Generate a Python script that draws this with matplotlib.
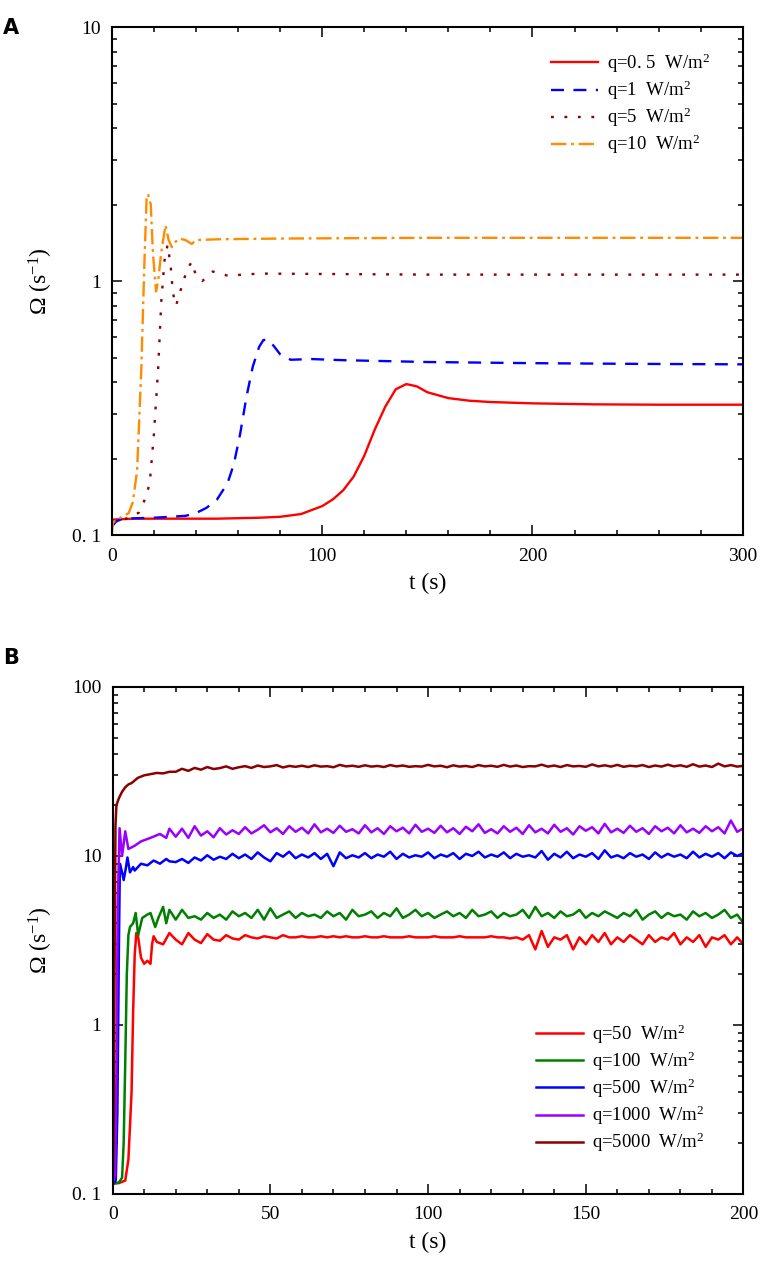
import numpy as np
import matplotlib
matplotlib.use("Agg")
import matplotlib.pyplot as plt
from matplotlib.ticker import FixedLocator, NullFormatter, MultipleLocator, LogLocator

plt.rcParams['font.family'] = ['Liberation Serif', 'DejaVu Serif']
plt.rcParams['mathtext.fontset'] = 'custom'
plt.rcParams['mathtext.rm'] = 'Liberation Serif'
plt.rcParams['mathtext.it'] = 'Liberation Serif'

# ---------------- panel A data ----------------
tA_05 = [0, 10, 30, 50, 70, 80, 90, 100, 105, 110, 115, 120, 125, 130, 135, 140,
         145, 150, 160, 170, 180, 200, 230, 260, 300]
wA_05 = [0.115, 0.116, 0.116, 0.116, 0.117, 0.118, 0.121, 0.13, 0.138, 0.15, 0.17,
         0.205, 0.26, 0.32, 0.375, 0.393, 0.385, 0.365, 0.346, 0.338, 0.334, 0.330,
         0.327, 0.326, 0.326]

tA_1 = [0, 2, 5, 20, 35, 40, 45, 50, 55, 58, 61, 64, 67, 70, 72, 74, 77, 80, 85,
        95, 110, 150, 200, 250, 300]
wA_1 = [0.108, 0.113, 0.116, 0.117, 0.119, 0.122, 0.128, 0.138, 0.16, 0.19, 0.25,
        0.35, 0.46, 0.55, 0.585, 0.59, 0.555, 0.515, 0.49, 0.493, 0.488, 0.48, 0.475,
        0.472, 0.47]

tA_5 = [0, 5, 10, 13, 16, 18, 20, 22, 23.5, 25, 26.5, 28, 29, 30.5, 32, 34, 36, 38,
        40, 43, 48, 55, 70, 150, 300]
wA_5 = [0.112, 0.115, 0.118, 0.123, 0.14, 0.16, 0.25, 0.45, 0.83, 1.2, 1.39, 1.14,
        0.9, 0.8, 0.88, 1.0, 1.12, 1.19, 1.05, 1.0, 1.09, 1.05, 1.07, 1.06, 1.06]

tA_10 = [0, 0.5, 4, 8, 10, 12, 14, 15.5, 16.5, 17.2, 18.5, 19.5, 21, 22, 23.5, 25.5,
         27, 28.5, 30, 32, 35, 38, 40, 50, 80, 150, 300]
wA_10 = [0.1, 0.112, 0.117, 0.122, 0.135, 0.18, 0.45, 1.2, 2.1, 2.2, 2.0, 1.3, 0.91,
         1.0, 1.3, 1.66, 1.45, 1.36, 1.42, 1.47, 1.45, 1.40, 1.45, 1.46, 1.47, 1.48,
         1.48]

labels_A = ['q=0. 5  W/m$^2$', 'q=1  W/m$^2$', 'q=5  W/m$^2$', 'q=10  W/m$^2$']

# ---------------- panel B data ----------------
t_steady = np.arange(20, 201, 2)

tB_50 = [0, 2, 4, 5, 6, 6.5, 7, 7.5, 8, 9, 10, 11, 12, 12.5, 13, 14, 16, 18]
wB_50 = [0.115, 0.116, 0.12, 0.16, 0.4, 1.2, 2.6, 3.5, 3.4, 2.5, 2.3, 2.4, 2.3, 3.0,
         3.35, 3.1, 3.0, 3.5]
sB_50 = [3.2, 3.0, 3.5, 3.2, 3.05, 3.45, 3.2, 3.15, 3.4, 3.25,
         3.2, 3.4, 3.3, 3.25, 3.35, 3.3, 3.25, 3.4, 3.3, 3.3,
         3.35, 3.3, 3.3, 3.35, 3.3, 3.35, 3.3, 3.35, 3.3, 3.3,
         3.35, 3.3, 3.3, 3.35, 3.3, 3.3, 3.3, 3.35, 3.3, 3.3,
         3.3, 3.35, 3.3, 3.3, 3.3, 3.35, 3.3, 3.3, 3.3, 3.3,
         3.35, 3.3, 3.3, 3.25, 3.3, 3.2, 3.4, 2.8, 3.6, 2.9,
         3.3, 3.2, 3.4, 2.8, 3.3, 3.0, 3.4, 3.1, 3.5, 3.0,
         3.3, 3.1, 3.4, 3.2, 3.0, 3.4, 3.1, 3.3, 3.2, 3.5,
         3.0, 3.3, 3.1, 3.4, 2.9, 3.3, 3.2, 3.4, 3.0, 3.3,
         3.0]

tB_100 = [0, 2, 3, 3.5, 4, 4.5, 5, 5.5, 6.5, 7.3, 8.1, 9.4, 11, 12, 13.5, 14.5, 16,
          17, 18]
wB_100 = [0.115, 0.117, 0.125, 0.2, 0.6, 2.0, 3.4, 3.8, 4.0, 4.6, 3.4, 4.3, 4.5, 4.6,
          3.8, 4.3, 5.0, 4.0, 4.8]
sB_100 = [4.2, 4.8, 4.3, 4.4, 4.2, 4.6, 4.3, 4.5, 4.2, 4.7,
          4.4, 4.6, 4.3, 4.8, 4.2, 4.9, 4.3, 4.5, 4.7, 4.3,
          4.6, 4.4, 4.5, 4.3, 4.7, 4.4, 4.6, 4.2, 4.8, 4.4,
          4.5, 4.7, 4.3, 4.6, 4.4, 4.9, 4.3, 4.5, 4.8, 4.4,
          4.6, 4.3, 4.5, 4.7, 4.4, 4.6, 4.3, 4.8, 4.4, 4.5,
          4.7, 4.3, 4.6, 4.4, 4.5, 4.8, 4.3, 5.0, 4.4, 4.6,
          4.3, 4.7, 4.4, 4.5, 4.8, 4.3, 4.6, 4.4, 4.7, 4.5,
          4.3, 4.6, 4.4, 4.8, 4.2, 4.5, 4.7, 4.3, 4.6, 4.4,
          4.5, 4.2, 4.7, 4.4, 4.6, 4.3, 4.5, 4.8, 4.3, 4.5,
          4.0]

tB_500 = [0, 1, 1.5, 2, 2.3, 3, 3.5, 4.2, 4.7, 5.5, 6.5, 7, 9, 11, 13, 15, 17, 18]
wB_500 = [0.115, 0.12, 0.3, 3.0, 9.0, 8.0, 7.2, 8.5, 9.8, 8.0, 8.6, 8.2, 9.0, 8.8,
          9.4, 9.0, 9.6, 9.3]
sB_500 = [9.2, 9.6, 9.1, 9.8, 9.4, 10.1, 9.5, 9.9, 9.6, 10.3,
          9.7, 10.2, 9.6, 10.5, 9.8, 9.3, 10.4, 9.9, 10.6, 9.7,
          10.2, 9.8, 10.4, 9.6, 10.3, 8.7, 10.5, 9.7, 10.1, 9.8,
          10.4, 9.7, 10.2, 9.9, 10.6, 9.6, 10.3, 9.8, 10.1, 9.9,
          10.5, 9.7, 10.2, 9.9, 10.4, 9.6, 10.3, 10.0, 10.6, 9.8,
          10.2, 9.9, 10.5, 9.7, 10.3, 9.9, 10.1, 9.8, 10.7, 9.5,
          10.3, 9.8, 10.6, 9.7, 10.2, 9.9, 10.4, 9.6, 10.8, 9.8,
          10.1, 9.7, 10.4, 9.9, 10.2, 9.6, 10.5, 9.8, 10.3, 9.9,
          10.2, 9.7, 10.6, 9.8, 10.3, 9.9, 10.4, 9.7, 10.5, 10.0,
          10.4]

tB_1000 = [0, 0.8, 1.2, 1.6, 2.2, 3, 4, 5, 7, 9, 12, 15, 17, 18]
wB_1000 = [0.115, 0.13, 0.5, 5.0, 14.6, 10.0, 14.0, 11.0, 11.5, 12.2, 12.8, 13.5,
           12.8, 14.5]
sB_1000 = [13.0, 14.5, 12.8, 15.0, 13.2, 14.0, 12.9, 14.6, 13.4, 14.2,
           13.5, 14.8, 13.6, 14.3, 15.2, 13.8, 14.6, 13.5, 15.0, 13.9,
           14.7, 13.6, 15.4, 13.8, 14.5, 13.7, 15.1, 13.9, 14.4, 13.6,
           15.2, 13.8, 14.6, 13.5, 15.0, 14.0, 14.7, 13.6, 15.3, 13.9,
           14.5, 13.7, 15.1, 13.8, 14.6, 13.5, 14.9, 14.0, 15.4, 13.7,
           14.4, 13.6, 15.0, 13.9, 14.7, 13.5, 15.2, 13.8, 14.5, 13.6,
           15.3, 13.9, 14.6, 13.4, 15.0, 14.1, 14.8, 13.6, 15.5, 13.8,
           14.5, 13.7, 15.1, 13.9, 14.6, 13.5, 15.0, 14.0, 14.7, 13.6,
           15.2, 13.8, 14.5, 13.7, 15.0, 14.0, 14.8, 13.6, 16.2, 13.9,
           14.6]

tB_5000 = [0, 0.3, 0.6, 0.9, 1.2, 2, 3, 4, 5, 6, 8, 10, 12, 14, 16, 18]
wB_5000 = [0.115, 0.2, 2.0, 15, 20, 22, 24, 25.5, 26.5, 27, 29, 30, 30.5, 31, 30.8,
           31.5]
sB_5000 = [31.5, 32.8, 31.9, 33.2, 32.4, 33.6, 32.7, 33.1, 33.9, 32.8,
           33.5, 34.0, 33.2, 34.3, 33.6, 33.9, 34.5, 33.4, 34.1, 33.7,
           34.2, 33.6, 34.4, 33.8, 34.0, 33.5, 34.6, 33.9, 34.2, 33.7,
           34.4, 33.8, 34.1, 33.6, 34.5, 33.9, 34.3, 33.7, 34.0, 33.8,
           34.6, 33.9, 34.2, 33.5, 34.4, 33.8, 34.1, 33.6, 34.5, 33.9,
           34.2, 33.7, 34.6, 33.8, 34.3, 33.6, 34.0, 33.9, 34.7, 33.8,
           34.3, 33.6, 34.5, 33.9, 34.1, 33.7, 34.8, 33.9, 34.4, 33.8,
           34.6, 33.7, 34.2, 33.9, 34.5, 33.6, 34.3, 33.8, 34.7, 33.9,
           34.4, 33.7, 34.9, 33.8, 34.3, 33.6, 35.2, 33.9, 34.5, 33.8,
           34.2]

labels_B = ['q=50  W/m$^2$', 'q=100  W/m$^2$', 'q=500  W/m$^2$',
            'q=1000  W/m$^2$', 'q=5000  W/m$^2$']


def style_axes(ax, xmax, xmajor, xminor, ymin, ymax, yticks, yticklabels):
    ax.set_yscale('log')
    ax.set_xlim(0, xmax)
    ax.set_ylim(ymin, ymax)
    ax.xaxis.set_major_locator(MultipleLocator(xmajor))
    ax.xaxis.set_minor_locator(MultipleLocator(xminor))
    ax.yaxis.set_major_locator(FixedLocator(yticks))
    ax.yaxis.set_minor_locator(LogLocator(base=10, subs=np.arange(2, 10)))
    ax.yaxis.set_minor_formatter(NullFormatter())
    ax.set_yticklabels(yticklabels)
    ax.tick_params(which='both', direction='in', top=True, right=True, width=1.1,
                   labelsize=14)
    ax.tick_params(which='major', length=7)
    ax.tick_params(which='minor', length=3.5)
    ax.tick_params(axis='y', pad=8)
    ax.tick_params(axis='x', pad=9)
    for s in ax.spines.values():
        s.set_linewidth(1.5)
    ax.set_xlabel('t (s)', fontsize=17, labelpad=6)
    ax.set_ylabel('Ω (s$^{-1}$)', fontsize=17, labelpad=12)


fig = plt.figure(figsize=(7.61, 12.64), dpi=100)
axA = fig.add_axes([0.147, 0.5767, 0.829, 0.4019])
axB = fig.add_axes([0.148, 0.0554, 0.829, 0.4011])

lw = 1.7
axA.plot(tA_05, wA_05, color='#ff0000', lw=lw, label=labels_A[0])
axA.plot(tA_1, wA_1, color='#0000ff', lw=lw, dashes=(5.5, 4), label=labels_A[1])
axA.plot(tA_5, wA_5, color='#8b0000', lw=lw, dashes=(1.2, 4.5), label=labels_A[2])
axA.plot(tA_10, wA_10, color='#ff8c00', lw=lw, dashes=(6.5, 2, 1.2, 2),
         label=labels_A[3])
style_axes(axA, 300, 100, 20, 0.1, 10, [0.1, 1, 10], ['0. 1', '1', '10'])
axA.legend(loc='upper right', bbox_to_anchor=(0.975, 0.985), frameon=False,
           fontsize=13.5, handlelength=2.5, handletextpad=0.5, labelspacing=0.2)

colors_B = ['#ff0000', '#008000', '#0000ff', '#9900ff', '#8b0000']
series_B = [(tB_50, wB_50, sB_50), (tB_100, wB_100, sB_100), (tB_500, wB_500, sB_500),
            (tB_1000, wB_1000, sB_1000), (tB_5000, wB_5000, sB_5000)]
for (te, we, ws), c, lab in zip(series_B, colors_B, labels_B):
    t = np.concatenate([te, t_steady])
    w = np.concatenate([we, ws])
    axB.plot(t, w, color=c, lw=1.8, label=lab)
style_axes(axB, 200, 50, 10, 0.1, 100, [0.1, 1, 10, 100],
           ['0. 1', '1', '10', '100'])
axB.legend(loc='lower right', bbox_to_anchor=(0.965, 0.045), frameon=False,
           fontsize=13.5, handlelength=2.5, handletextpad=0.5, labelspacing=0.2)

fig.text(0.004, 0.986, 'A', fontsize=15, fontweight='bold', family='DejaVu Sans',
         va='top')
fig.text(0.004, 0.487, 'B', fontsize=15, fontweight='bold', family='DejaVu Sans',
         va='top')

fig.savefig('out.png', dpi=100)
